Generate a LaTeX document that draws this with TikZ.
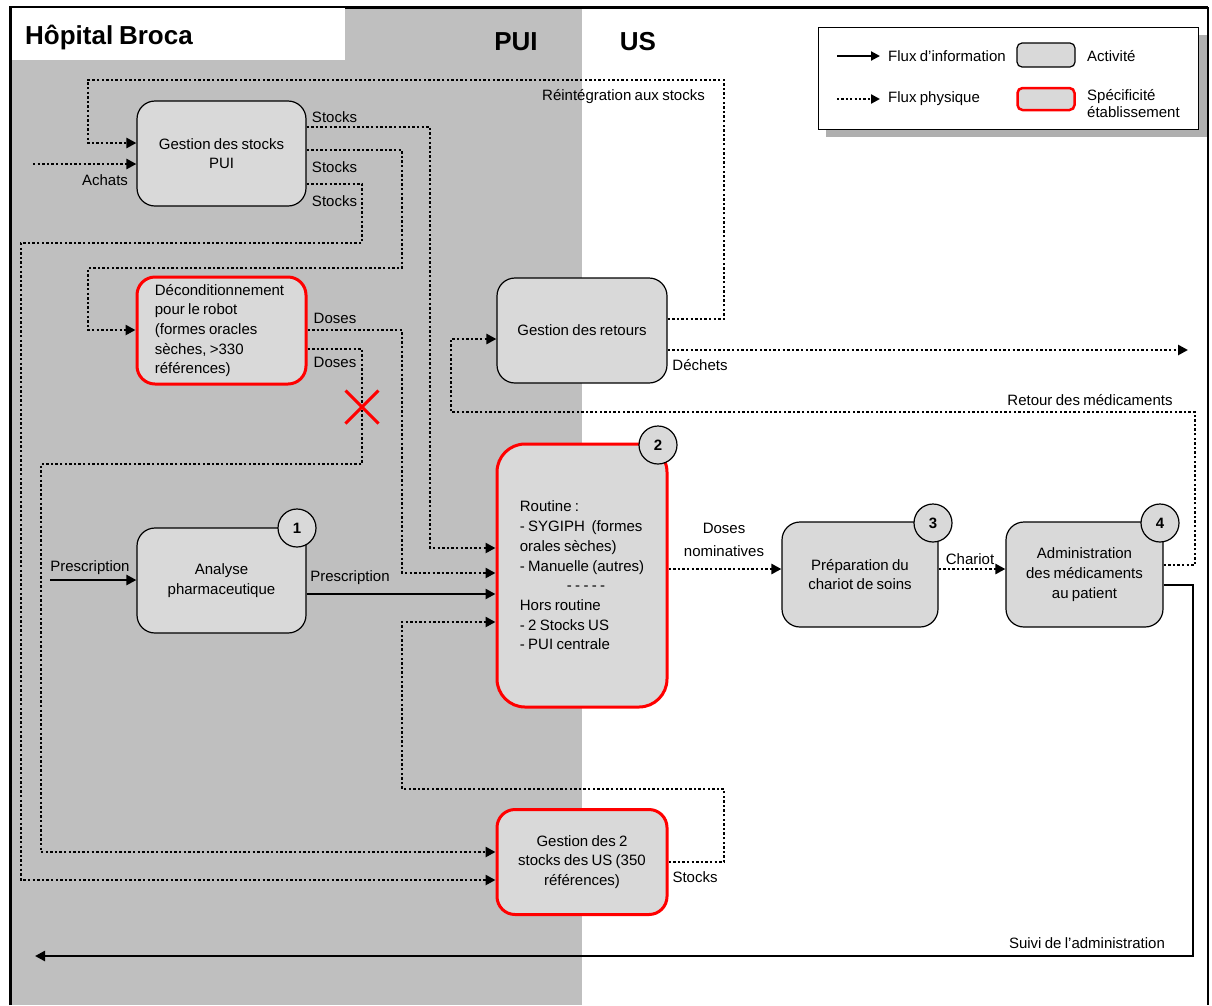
\documentclass[tikz,border=0pt]{standalone}
\usepackage{fontspec}
\setmainfont{Liberation Sans}[WordSpace=0.8]
\usetikzlibrary{arrows.meta,shapes.misc}
\definecolor{bggray}{RGB}{191,191,191}
\definecolor{boxgray}{RGB}{217,217,217}
\definecolor{shadowgray}{RGB}{175,175,175}
\newcommand{\fs}{\fontsize{15}{19.7}\selectfont}
\newcommand{\bigfs}{\fontsize{26}{30}\selectfont\bfseries}
\begin{document}
\begin{tikzpicture}[x=1pt,y=-1pt,
  act/.style={draw=black, line width=1.2pt, fill=boxgray, rounded corners=18pt, minimum width=169pt, minimum height=105pt, align=center, inner sep=0pt, font=\fs},
  spec/.style={act, draw=red, line width=3pt},
  num/.style={circle, draw=black, line width=1.2pt, fill=boxgray, minimum size=38pt, inner sep=0pt, font=\fs\bfseries},
  lbl/.style={font=\fs, inner sep=0pt},
  phys/.style={line width=2.7pt, dash pattern=on 2.4pt off 2.2pt, -{Triangle[length=10pt,width=10pt]}},
  info/.style={line width=2.4pt, -{Triangle[length=10pt,width=10pt]}},
]
\useasboundingbox (0,0) rectangle (1212,1005);
\fill[white] (0,0) rectangle (1212,1005);
\fill[bggray] (12,8) rectangle (582,1005);
% frame
\draw[line width=3pt] (10,1005) -- (10,7) -- (1208,7);
\draw[line width=1.5pt] (1208,7) -- (1208,1005);
% title
\fill[white] (12,8) rectangle (345,60);
\node[anchor=west, inner sep=0pt, font=\bigfs] (title) at (25,37) {Hôpital Broca};
\node[font=\bigfs, inner sep=0pt] (pui) at (516,42) {PUI};
\node[font=\bigfs, inner sep=0pt] (us) at (638,42) {US};

% legend
\fill[shadowgray] (826,35) rectangle (1207,137);
\node[draw=black, line width=1.2pt, fill=white, anchor=north west, minimum width=380pt, minimum height=102pt, inner sep=0pt] (leg) at (818,27) {};
\coordinate (li1) at (837,56);
\coordinate (li2) at (880,56);
\draw[line width=2pt, -{Triangle[length=9pt,width=9pt]}] (li1) -- (li2);
\node[lbl, anchor=west] (lt1) at (888,56) {Flux d’information};
\node[act, minimum width=58pt, minimum height=24pt, rounded corners=5pt] (lb1) at (1046,55) {};
\node[lbl, anchor=west] (lt2) at (1087,56) {Activité};
\coordinate (lp1) at (837,99);
\coordinate (lp2) at (880,99);
\draw[line width=2.4pt, dash pattern=on 2.2pt off 2.2pt, -{Triangle[length=9pt,width=9pt]}] (lp1) -- (lp2);
\node[lbl, anchor=west] (lt3) at (888,99) {Flux physique};
\node[act, draw=red, line width=2.5pt, minimum width=57pt, minimum height=22pt, rounded corners=5pt] (lb2) at (1046,99) {};
\node[lbl, anchor=west, align=left, font=\fontsize{15}{17}\selectfont] (lt4) at (1087,104) {Spécificité\\établissement};

% boxes
\node[act] (gs) at (221.5,153.5) {Gestion des stocks\\PUI};
\node[spec, align=left, minimum height=107pt] (dec) at (221.5,330.5) {Déconditionnement\hspace*{4pt}\\pour le robot\\(formes oracles\\sèches, >330\\références)};
\node[act, minimum width=170pt] (gr) at (582,330.5) {Gestion des retours};
\node[spec, align=left, minimum width=170pt, minimum height=263pt, rounded corners=28pt] (rt) at (582,575.5) {Routine :\\- SYGIPH~~(formes\\orales sèches)\\- Manuelle (autres)\\\hspace*{47pt}- - - - -\\Hors routine\\- 2 Stocks US\\- PUI centrale};
\node[act] (an) at (221.5,580.5) {Analyse\\pharmaceutique};
\node[act, minimum width=156pt] (pc) at (860,574.5) {Préparation du\\chariot de soins};
\node[act, minimum width=157pt] (ad) at (1084.5,574.5) {Administration\\des médicaments\\au patient};
\node[spec, minimum width=170pt] (gus) at (582,862) {Gestion des 2\\stocks des US (350\\références)};

% numbers
\node[num] (c1) at (297,528) {1};
\node[num] (c2) at (658,445) {2};
\node[num] (c3) at (933,523) {3};
\node[num] (c4) at (1160,523) {4};

% free ends
\coordinate (achin) at (33,164);
\coordinate (prin) at (50,580);
\coordinate (dechend) at (1188,350);
\coordinate (suivend) at (35,956);

% physical flows
\draw[phys] (achin) -- (gs.west |- achin);
\draw[phys] (gr.east |- 0,319) -| (724,80) -| (88,143) -- (gs.west |- 0,143);
\draw[phys] (gs.east |- 0,127) -| (430,548) -- (rt.west |- 0,548);
\draw[phys] (gs.east |- 0,150) -| (402,268) -| (88,330) -- (dec.west |- 0,330);
\draw[phys] (gs.east |- 0,184) -| (362,243) -| (21,880) -- (gus.west |- 0,880);
\draw[phys] (dec.east |- 0,330) -| (402,573) -- (rt.west |- 0,573);
\draw[phys] (dec.east |- 0,349) -| (362,464) -| (41,852) -- (gus.west |- 0,852);
\draw[phys] (gr.east |- 0,350) -- (dechend);
\draw[phys] (ad.east |- 0,565) -| (1195,412) -| (451,339) -- (gr.west |- 0,339);
\draw[phys] (gus.east |- 0,862) -| (724,789) -| (402,622) -- (rt.west |- 0,622);
\draw[phys] (rt.east |- 0,569) -- (pc.west |- 0,569);
\draw[phys] (pc.east |- 0,569) -- (ad.west |- 0,569);

% information flows
\draw[info] (prin) -- (an.west |- prin);
\draw[info] (an.east |- 0,594) -- (rt.west |- 0,594);
\draw[info] (ad.east |- 0,585) -| (1193,956) -- (suivend);

% red cross
\node[cross out, draw=red, line width=3pt, minimum size=30pt, inner sep=0pt] (xm) at (362,407) {};

% labels
\node[lbl] (lachats) at (105,180) {Achats};
\node[lbl] (ls1) at (334.5,117) {Stocks};
\node[lbl] (ls2) at (334.5,167) {Stocks};
\node[lbl] (ls3) at (334.5,201) {Stocks};
\node[lbl] (lrei) at (623.5,97) {Réintégration aux stocks};
\node[lbl] (ld1) at (335,318) {Doses};
\node[lbl] (ld2) at (335,362) {Doses};
\node[lbl] (ldech) at (700,365) {Déchets};
\node[lbl] (lret) at (1090,400) {Retour des médicaments};
\node[lbl] (lpr1) at (90,568) {Prescription};
\node[lbl] (lpr2) at (350,578) {Prescription};
\node[lbl, align=center, font=\fontsize{15}{23}\selectfont] (ldn) at (724,540) {Doses\\nominatives};
\node[lbl] (lch) at (970,559) {Chariot};
\node[lbl] (lsus) at (695,877) {Stocks};
\node[lbl] (lsuivi) at (1087,943) {Suivi de l’administration};
\end{tikzpicture}
\end{document}
